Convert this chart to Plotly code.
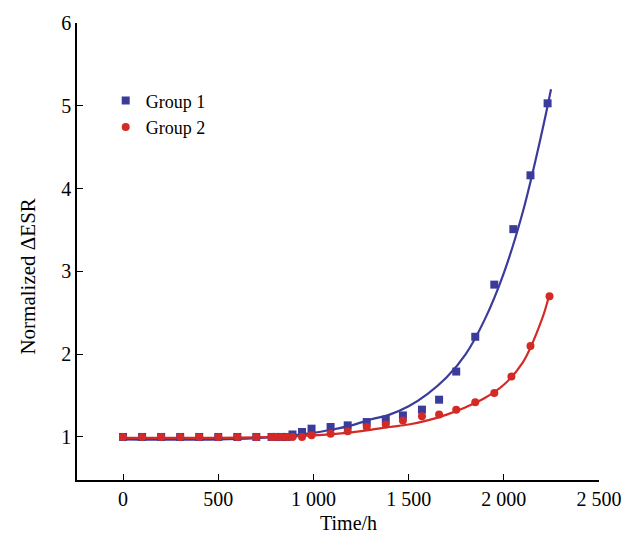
import plotly.graph_objects as go

# Measured points
g1_time = [0, 100, 200, 300, 400, 500, 600, 700, 780, 800, 830, 860, 890, 940, 990,
           1090, 1180, 1280, 1380, 1470, 1570, 1660, 1750, 1850, 1950, 2050, 2140, 2230]
g1_esr = [1.0, 1.0, 1.0, 1.0, 1.0, 1.0, 1.0, 1.0, 1.0, 1.0, 1.0, 1.0, 1.03, 1.06, 1.10,
          1.12, 1.14, 1.18, 1.21, 1.26, 1.33, 1.45, 1.79, 2.21, 2.84, 3.51, 4.16, 5.03]

g2_time = [0, 100, 200, 300, 400, 500, 600, 700, 780, 800, 830, 860, 890, 940, 990,
           1090, 1180, 1280, 1380, 1470, 1570, 1660, 1750, 1850, 1950, 2040, 2140, 2240]
g2_esr = [1.0, 1.0, 1.0, 1.0, 1.0, 1.0, 1.0, 1.0, 1.0, 1.0, 1.0, 1.0, 1.0, 1.0, 1.02,
          1.04, 1.07, 1.12, 1.15, 1.20, 1.25, 1.27, 1.33, 1.42, 1.53, 1.73, 2.10, 2.70]

# Fitted curves
fit1_time = [0, 500, 800, 1000, 1100, 1200, 1300, 1400, 1500, 1600, 1700, 1800, 1900, 2000, 2100, 2200, 2248]
fit1_esr = [0.97, 0.97, 1.0, 1.05, 1.09, 1.14, 1.21, 1.27, 1.37, 1.52, 1.72, 2.0, 2.42, 2.98, 3.72, 4.68, 5.2]

fit2_time = [0, 500, 800, 1000, 1100, 1200, 1300, 1400, 1500, 1600, 1700, 1800, 1900, 2000, 2100, 2200, 2237]
fit2_esr = [0.99, 0.99, 1.0, 1.02, 1.035, 1.055, 1.085, 1.12, 1.15, 1.20, 1.27, 1.36, 1.47, 1.63, 1.90, 2.42, 2.70]

x_ticks = [0, 500, 1000, 1500, 2000, 2500]
x_tick_text = ["0", "500", "1 000", "1 500", "2 000", "2 500"]
y_ticks = [1, 2, 3, 4, 5, 6]

BLUE = "#3b3b9c"
RED = "#d42a26"
FONT = "Liberation Serif, Times New Roman, serif"

fig = go.Figure()
fig.add_trace(go.Scatter(x=fit1_time, y=fit1_esr, mode="lines", line=dict(color=BLUE, width=2.2, shape="spline"),
                         showlegend=False, hoverinfo="skip"))
fig.add_trace(go.Scatter(x=fit2_time, y=fit2_esr, mode="lines", line=dict(color=RED, width=2.2, shape="spline"),
                         showlegend=False, hoverinfo="skip"))
fig.add_trace(go.Scatter(x=g1_time, y=g1_esr, mode="markers", name="Group 1",
                         marker=dict(symbol="square", size=8, color=BLUE)))
fig.add_trace(go.Scatter(x=g2_time, y=g2_esr, mode="markers", name="Group 2",
                         marker=dict(symbol="circle", size=8, color=RED)))

fig.update_layout(
    width=634, height=541,
    margin=dict(l=77, r=35, t=13, b=61),
    paper_bgcolor="white", plot_bgcolor="white",
    font=dict(family=FONT, size=19, color="black"),
    legend=dict(x=0.055, y=0.87, xanchor="left", yanchor="top",
                font=dict(size=18), bgcolor="rgba(0,0,0,0)", tracegroupgap=0,
                itemwidth=30),
    showlegend=True,
    annotations=[
        dict(text="Time/h", xref="paper", yref="paper", x=0.52, y=-0.094,
             xanchor="center", yanchor="middle", showarrow=False, font=dict(size=20)),
        dict(text="Normalized ΔESR", xref="paper", yref="paper", x=-0.094, y=0.445,
             xanchor="center", yanchor="middle", textangle=-90, showarrow=False, font=dict(size=21)),
    ],
)
fig.update_xaxes(range=[-242, 2500], tickvals=x_ticks, ticktext=x_tick_text,
                 ticks="inside", ticklen=6, tickwidth=1.2, tickcolor="black",
                 showline=True, linecolor="black", linewidth=1.5, showgrid=False, zeroline=False,
                 tickfont=dict(size=20))
fig.update_yaxes(range=[0.48, 6], tickvals=y_ticks,
                 ticks="inside", ticklen=6, tickwidth=1.2, tickcolor="black",
                 showline=True, linecolor="black", linewidth=1.5, showgrid=False, zeroline=False,
                 tickfont=dict(size=20))

fig.write_html("out.html")
